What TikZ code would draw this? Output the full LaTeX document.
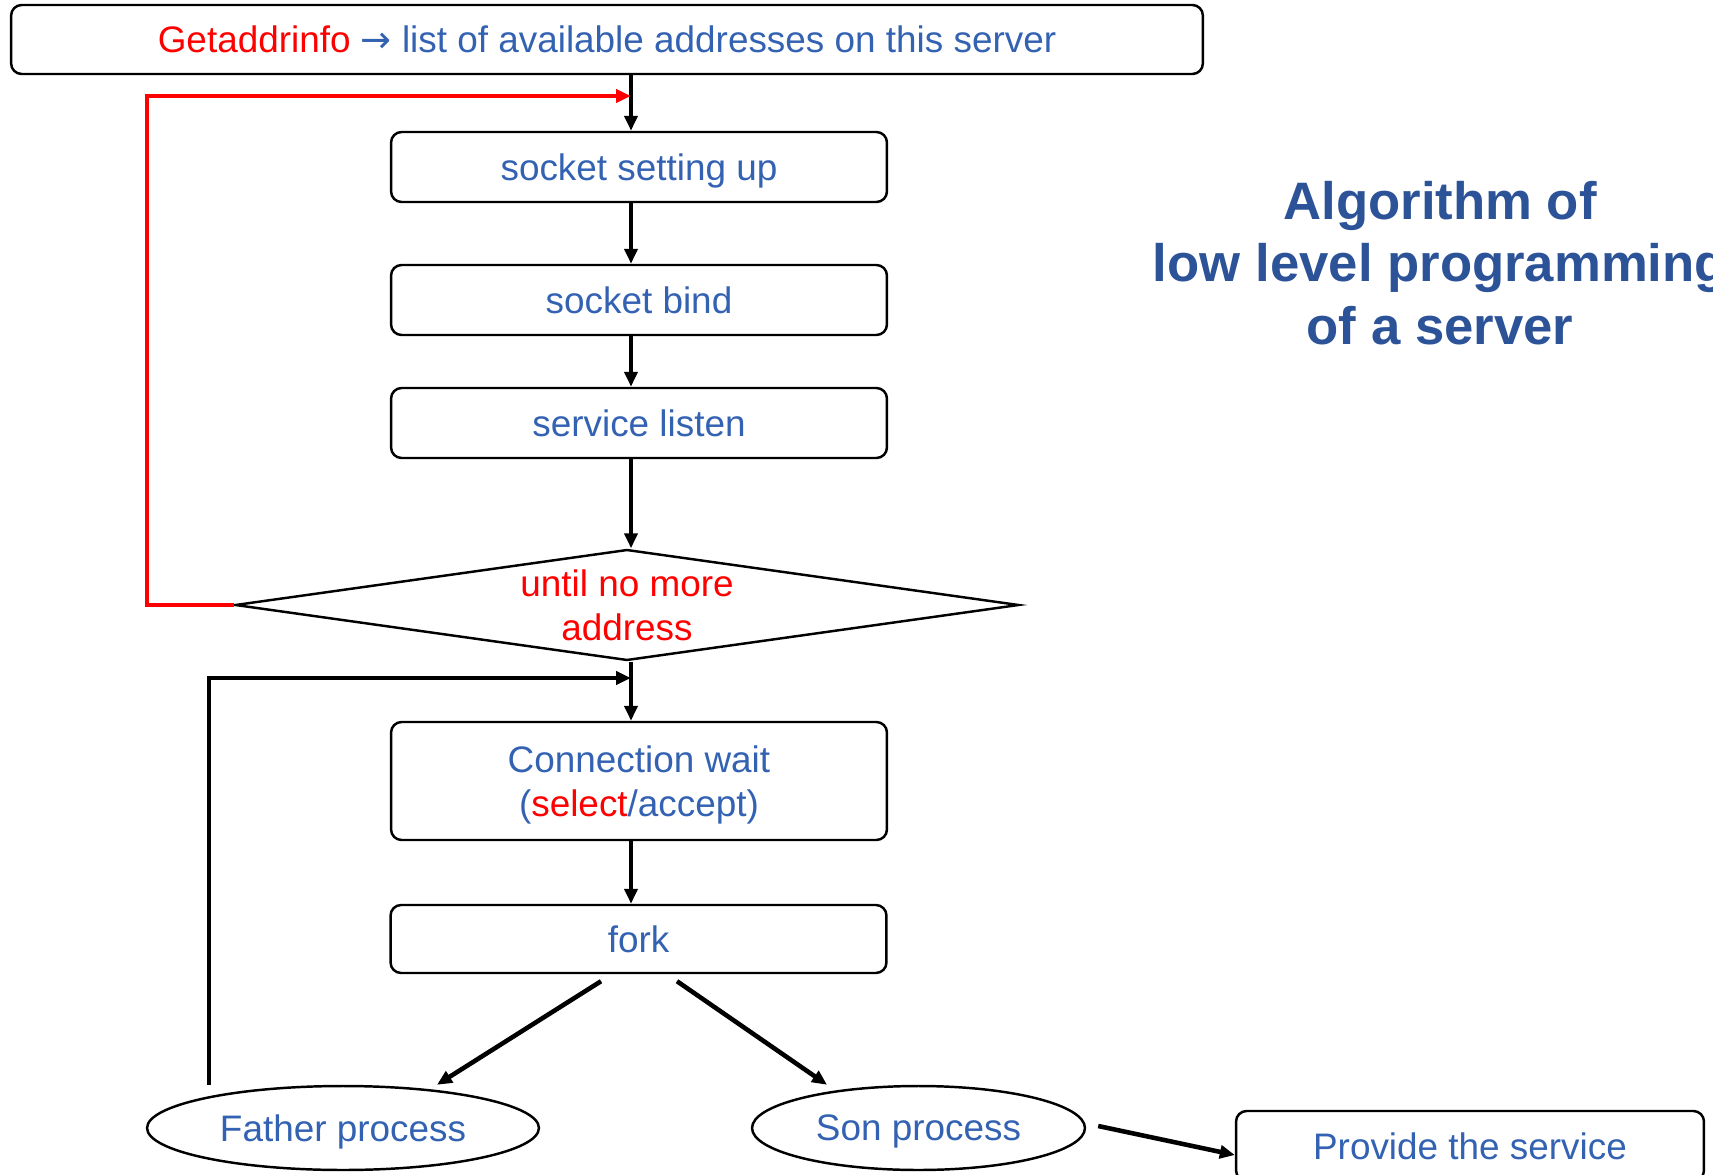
\documentclass[tikz,border=0pt]{standalone}
\usepackage{fontspec}
\setmainfont{Liberation Sans}
\newfontfamily\symfont{DejaVu Sans}
\usetikzlibrary{shapes.geometric, arrows.meta, positioning}
\definecolor{txtblue}{RGB}{52,98,178}
\definecolor{ttlblue}{RGB}{44,82,152}
\definecolor{loopred}{RGB}{255,0,0}

\begin{document}
\begin{tikzpicture}[
  x=0.02cm, y=-0.02cm,
  sbox/.style={draw, line width=1.4pt, rounded corners=6pt, minimum width=9.92cm, minimum height=1.4cm, text depth=0pt, align=center, text=txtblue, font=\fontsize{21}{25}\selectfont},
  cond/.style={draw, line width=1.4pt, diamond, aspect=7, inner sep=0pt, minimum width=15.68cm, minimum height=2.22cm, align=center, text=loopred, font=\fontsize{21}{25}\selectfont},
  proc/.style={draw, line width=1.4pt, ellipse, minimum height=1.68cm, text depth=0pt, text=txtblue, font=\fontsize{21}{25}\selectfont},
  arr/.style={line width=2.6pt, -{Triangle[length=0.3cm, width=0.26cm]}},
  ttl/.style={align=center, text=ttlblue, font=\fontsize{30}{35.7}\selectfont\bfseries}
]
  \useasboundingbox (0,0) rectangle (1713,1175);

  \node[sbox, minimum width=23.84cm, minimum height=1.38cm] (addr) at (607,39.5)
    {\textcolor{loopred}{Getaddrinfo} {\symfont →} list of available addresses on this server};
  \node[sbox] (setup) at (639,167) {socket setting up};
  \node[sbox] (bind) at (639,300) {socket bind};
  \node[sbox] (listen) at (639,423) {service listen};
  \node[cond] (until) at (627,605) {until no more\\address};
  \node[sbox, minimum height=2.36cm] (wait) at (639,781)
    {Connection wait\\(\textcolor{loopred}{select}/accept)};
  \node[sbox, minimum height=1.36cm] (fork) at (638.5,939) {fork};
  \node[proc, minimum width=7.84cm] (father) at (343,1128) {Father process};
  \node[proc, minimum width=6.66cm] (son) at (918.5,1128) {Son process};
  \node[sbox, minimum width=9.36cm] (serve) at (1470,1146) {Provide the service};

  \node[ttl] (title) at (1440,263) {Algorithm of\\low level programming\\of a server};

  \coordinate (spine) at (631,0);
  \coordinate (retA) at (147,96);
  \coordinate (joinA) at (631,96);
  \coordinate (retB) at (209,1085);
  \coordinate (joinB) at (631,678);

  \draw[arr] (addr.south -| spine) -- (setup.north -| spine);
  \draw[arr] (setup.south -| spine) -- (bind.north -| spine);
  \draw[arr] (bind.south -| spine) -- (listen.north -| spine);
  \draw[arr] (listen.south -| spine) -- (until.north -| spine);
  \draw[arr] (until.south -| spine) -- (wait.north -| spine);
  \draw[arr] (wait.south -| spine) -- (fork.north -| spine);

  \draw[arr, loopred] (until.west) -| (retA) -- (joinA);
  \draw[arr] (retB) |- (joinB);

  \draw[arr] ([xshift=-0.75cm, yshift=-0.14cm]fork.south) -- ([xshift=1.88cm]father.north);
  \draw[arr] ([xshift=0.77cm, yshift=-0.14cm]fork.south) -- ([xshift=-1.83cm]son.north);
  \draw[arr] ([xshift=0.24cm, yshift=0.04cm]son.east) -- ([yshift=-0.18cm]serve.west);
\end{tikzpicture}
\end{document}
